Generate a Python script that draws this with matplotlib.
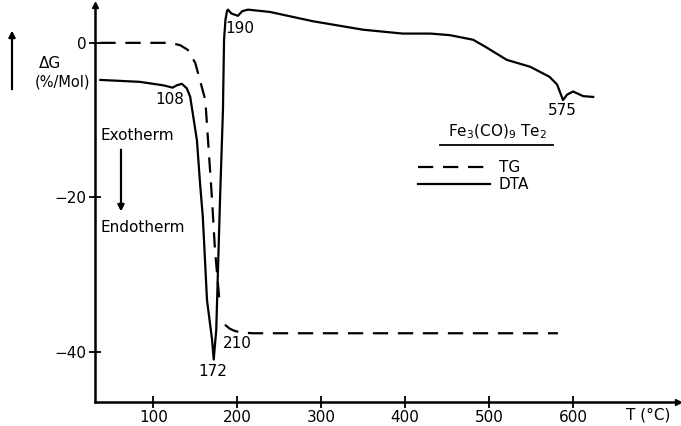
import numpy as np
from matplotlib import pyplot as plt
from matplotlib.lines import Line2D

# DTA trace
dta_T = [37, 84, 112, 123, 128, 134, 140, 144, 147, 152, 156, 159, 164, 170, 172,
         175, 179.5, 183, 184.3, 186, 187.8, 189, 193, 200.8, 206, 212.8, 239, 290, 350,
         397, 430, 453, 481, 497, 521, 549, 572, 581, 588, 593, 600, 612, 624]
dta_G = [-4.8, -5.05, -5.5, -5.8, -5.5, -5.3, -5.9, -7.0, -9.1, -12.6, -18.6, -22.5,
         -33.3, -38.4, -41.0, -37.2, -20.3, -8.7, 0.4, 3.0, 4.1, 4.3, 3.8, 3.5, 4.1, 4.3,
         4.0, 2.8, 1.7, 1.2, 1.2, 1.0, 0.4, -0.6, -2.2, -3.1, -4.4, -5.4, -7.4, -6.7,
         -6.3, -6.9, -7.0]

# TG trace, drawn in two pieces as in the original
tg_T1 = [37, 120, 132, 141, 150, 162, 170, 173.5, 179.5]
tg_G1 = [0, 0, -0.3, -0.9, -2.6, -7.4, -20.3, -26.8, -34.2]
tg_T2 = [185.4, 191, 197, 205, 219, 582]
tg_G2 = [-36.5, -37.0, -37.3, -37.5, -37.6, -37.6]

x_ticks = [100, 200, 300, 400, 500, 600]
y_ticks = [0, -20, -40]

# peak labels: (text, T, G)
peaks = [("108", 120, -7.3), ("190", 203, 1.8), ("172", 171, -42.6),
         ("210", 200, -38.9), ("575", 587, -8.8)]

plt.rcParams['lines.scale_dashes'] = False
fig = plt.figure(figsize=(6.81, 4.26), dpi=100)
ax = fig.add_axes([95/681, 24/426, 583/681, 397/426])

line_tg, = ax.plot(tg_T1, tg_G1, color='black', lw=1.6, dashes=(11, 7))
ax.plot(tg_T2, tg_G2, color='black', lw=1.6, dashes=(11, 7))
line_dta, = ax.plot(dta_T, dta_G, color='black', lw=1.6)

ax.set_xlim(30.6, 725)
ax.set_ylim(-46.5, 4.9)
ax.spines['top'].set_visible(False)
ax.spines['right'].set_visible(False)
ax.spines['left'].set_linewidth(1.8)
ax.spines['bottom'].set_linewidth(1.8)
ax.set_xticks(x_ticks)
ax.set_yticks(y_ticks)
ax.set_yticklabels(["0", "\u221220", "\u221240"])
ax.tick_params(direction='inout', length=8, width=1.3, labelsize=11, pad=2)

# axis end arrows
ax.plot([0], [1], marker='^', ms=5, color='black', transform=ax.transAxes, clip_on=False)
ax.plot([1], [0], marker='>', ms=5, color='black', transform=ax.transAxes, clip_on=False)

for txt, t, g in peaks:
    ax.text(t, g, txt, fontsize=11, ha='center', va='center')

fig.text(648/681, 1 - 415/426, "T (\u00b0C)", fontsize=11, ha='center', va='center')
fig.text(50/681, 1 - 64/426, "\u0394G", fontsize=11, ha='center', va='center')
fig.text(62/681, 1 - 82/426, "(%/Mol)", fontsize=10.5, ha='center', va='center')
fig.text(100/681, 1 - 135/426, "Exotherm", fontsize=11, ha='left', va='center')
fig.text(100/681, 1 - 227/426, "Endotherm", fontsize=11, ha='left', va='center')

# direction arrows
fig.add_artist(plt.annotate("", xy=(12/681, 1 - 28/426), xytext=(12/681, 1 - 92/426),
                            xycoords='figure fraction',
                            arrowprops=dict(arrowstyle='-|>', color='black', lw=1.5,
                                            mutation_scale=9)))
fig.add_artist(plt.annotate("", xy=(121/681, 1 - 214/426), xytext=(121/681, 1 - 147/426),
                            xycoords='figure fraction',
                            arrowprops=dict(arrowstyle='-|>', color='black', lw=1.5,
                                            mutation_scale=9)))

# legend with underlined compound title
fig.text(497/681, 1 - 132/426, "Fe$_3$(CO)$_9$ Te$_2$", fontsize=11, ha='center', va='center')
fig.add_artist(Line2D([440/681, 553/681], [1 - 145/426, 1 - 145/426], color='black', lw=1.3))
leg = ax.legend([line_tg, line_dta], ["TG", "DTA"], loc='upper left',
                bbox_to_anchor=(418/681, 1 - 160/426), bbox_transform=fig.transFigure,
                frameon=False, fontsize=11, handlelength=4.7, handletextpad=0.6,
                labelspacing=0.15, borderpad=0, borderaxespad=0)

fig.savefig("out.png", dpi=100)
